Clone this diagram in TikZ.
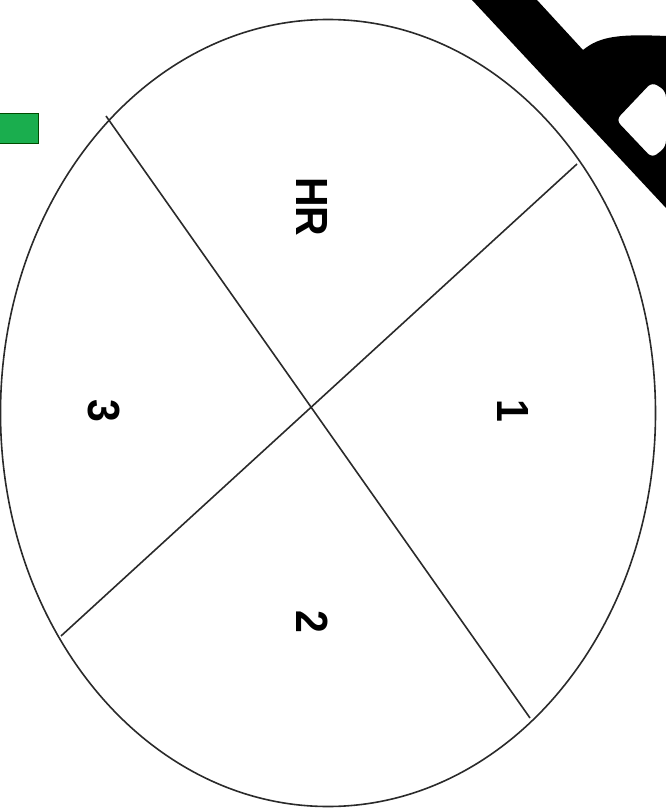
\documentclass[tikz,border=0pt]{standalone}
\usepackage{fontspec}
\usepackage{graphicx}
\setmainfont{Liberation Sans}
\usetikzlibrary{shapes.geometric}
\definecolor{boxgreen}{HTML}{1AAE4E}
\definecolor{inkline}{HTML}{2A2A2A}
\tikzset{
  sector/.style={draw=inkline, line width=1.6pt},
  lbl/.style={rotate=-90, inner sep=0pt, font=\fontsize{41}{48}\selectfont\bfseries},
}
\begin{document}
\begin{tikzpicture}[x=1pt, y=-1pt]
\useasboundingbox (0,0) rectangle (665,810);
% green rectangle
\node[draw=black!70!green, fill=boxgreen, line width=1.2pt, minimum width=42pt, minimum height=30pt, inner sep=0pt, anchor=north east] (gbox) at (39,113) {};
% black shape at top right
\fill[black, even odd rule]
  (472,0) -- (537,0) -- (583,50) .. controls (600,36) and (620,34) .. (666,36) -- (666,208) -- cycle
  [rounded corners=6pt] (616,120) -- (652,82) -- (666,91) -- (666,147) -- (652,158) -- cycle;
% ellipse
\node[sector, ellipse, minimum width=655pt, minimum height=787pt, inner sep=0pt] (ell) at (328,413) {};
% dividing lines
\coordinate (a1) at (106,116);
\coordinate (a2) at (530,718);
\coordinate (b1) at (577,164);
\coordinate (b2) at (61,636);
\draw[sector] (a1) -- (a2);
\draw[sector] (b1) -- (b2);
% labels
\node[lbl] (hr) at (312,207) {\scalebox{1}[1.1]{HR}};
\node[lbl] (one) at (513,411) {\scalebox{1}[1.1]{1}};
\node[lbl] (two) at (312,622) {\scalebox{1}[1.1]{2}};
\node[lbl] (three) at (104,411) {\scalebox{1}[1.1]{3}};
\end{tikzpicture}
\end{document}
